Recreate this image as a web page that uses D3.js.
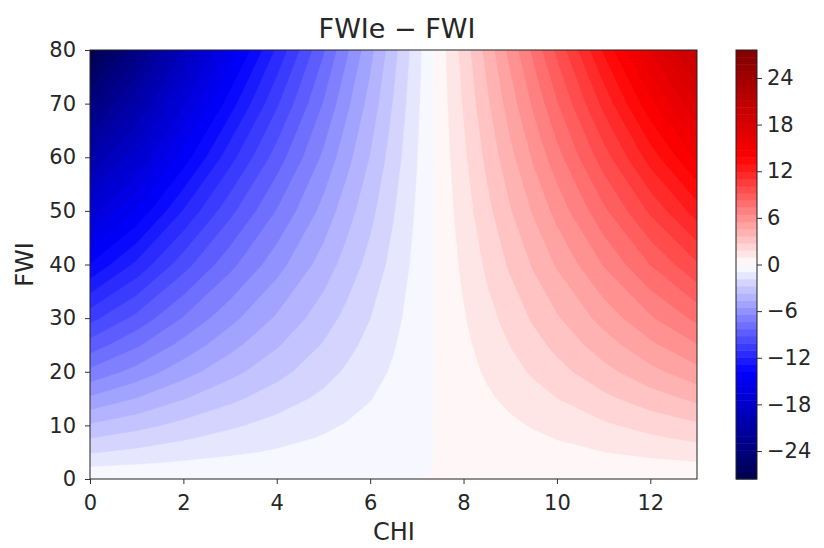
<!DOCTYPE html>
<html>
<head>
<meta charset="utf-8">
<script src="https://cdn.jsdelivr.net/npm/d3@7"></script>
<style>
  body { margin: 0; background: #fff; }
  text { font-family: "DejaVu Sans", sans-serif; fill: #262626; }
</style>
</head>
<body>
<div id="container"></div>
<script>
/* CONSTANTS AND GLOBALS */
const width = 824;
const height = 548;
const plot = { left: 90, right: 697, top: 50, bottom: 479 };
const bar = { left: 736, right: 757 };

/* DATA */
const chiValues = [0, 1, 2, 3, 4, 5, 5.5, 6, 6.5, 7, 7.5, 8, 8.5, 9, 9.5, 10, 11, 12, 13];
const fwiValues = [0, 1, 2, 3, 5, 7.5, 10, 15, 20, 25, 30, 40, 50, 60, 70, 80];
// FWIe - FWI : one row per FWI value (bottom to top), one column per CHI value
const diffRows = [
  [0, 0, 0, 0, 0, 0, 0, 0, 0, 0, 0, 0, 0, 0, 0, 0, 0, 0, 0],
  [-0.41, -0.35, -0.29, -0.23, -0.18, -0.13, -0.10, -0.07, -0.05, -0.02, 0.01, 0.03, 0.06, 0.09, 0.11, 0.14, 0.20, 0.25, 0.30],
  [-0.83, -0.71, -0.58, -0.46, -0.35, -0.25, -0.20, -0.15, -0.09, -0.04, 0.02, 0.07, 0.12, 0.17, 0.23, 0.28, 0.39, 0.50, 0.60],
  [-1.18, -1.01, -0.83, -0.66, -0.51, -0.36, -0.28, -0.21, -0.13, -0.06, 0.02, 0.09, 0.17, 0.25, 0.33, 0.40, 0.56, 0.71, 0.86],
  [-1.93, -1.65, -1.34, -1.07, -0.83, -0.59, -0.46, -0.34, -0.22, -0.09, 0.04, 0.15, 0.28, 0.41, 0.53, 0.66, 0.91, 1.16, 1.40],
  [-2.75, -2.35, -1.92, -1.53, -1.18, -0.84, -0.66, -0.49, -0.31, -0.13, 0.05, 0.22, 0.40, 0.58, 0.76, 0.94, 1.30, 1.66, 2.00],
  [-3.58, -3.06, -2.50, -1.99, -1.53, -1.09, -0.86, -0.64, -0.40, -0.17, 0.07, 0.29, 0.52, 0.75, 0.99, 1.22, 1.69, 2.16, 2.60],
  [-5.36, -4.58, -3.74, -2.98, -2.30, -1.64, -1.29, -0.96, -0.60, -0.25, 0.10, 0.43, 0.78, 1.13, 1.48, 1.83, 2.54, 3.24, 3.90],
  [-7.15, -6.11, -4.99, -3.98, -3.07, -2.18, -1.72, -1.27, -0.81, -0.34, 0.13, 0.57, 1.04, 1.51, 1.98, 2.44, 3.38, 4.32, 5.20],
  [-8.80, -7.52, -6.14, -4.90, -3.78, -2.69, -2.11, -1.57, -0.99, -0.42, 0.16, 0.70, 1.28, 1.86, 2.43, 3.01, 4.16, 5.31, 6.40],
  [-10.45, -8.93, -7.30, -5.81, -4.48, -3.19, -2.51, -1.86, -1.18, -0.49, 0.19, 0.84, 1.52, 2.20, 2.89, 3.57, 4.94, 6.31, 7.60],
  [-13.75, -11.75, -9.60, -7.65, -5.90, -4.20, -3.30, -2.45, -1.55, -0.65, 0.25, 1.10, 2.00, 2.90, 3.80, 4.70, 6.50, 8.30, 10.00],
  [-17.05, -14.57, -11.90, -9.49, -7.32, -5.21, -4.09, -3.04, -1.92, -0.81, 0.31, 1.36, 2.48, 3.60, 4.71, 5.83, 8.06, 10.29, 12.40],
  [-20.49, -17.51, -14.30, -11.40, -8.79, -6.26, -4.92, -3.65, -2.31, -0.97, 0.37, 1.64, 2.98, 4.32, 5.66, 7.00, 9.69, 12.37, 14.90],
  [-23.93, -20.45, -16.70, -13.31, -10.27, -7.31, -5.74, -4.26, -2.70, -1.13, 0.44, 1.91, 3.48, 5.05, 6.61, 8.18, 11.31, 14.44, 17.40],
  [-27.50, -23.50, -19.20, -15.30, -11.80, -8.40, -6.60, -4.90, -3.10, -1.30, 0.50, 2.20, 4.00, 5.80, 7.60, 9.40, 13.00, 16.60, 20.00]
];
const xTicks = [0, 2, 4, 6, 8, 10, 12];
const yTicks = [0, 10, 20, 30, 40, 50, 60, 70, 80];
const barTicks = [-24, -18, -12, -6, 0, 6, 12, 18, 24];
const vLimit = 27.6;
const nBands = 60;

/* SCALES */
const xScale = d3.scaleLinear().domain([0, 13]).range([plot.left, plot.right]);
const yScale = d3.scaleLinear().domain([0, 80]).range([plot.bottom, plot.top]);
const barScale = d3.scaleLinear().domain([-vLimit, vLimit]).range([plot.bottom, plot.top]);

// matplotlib "seismic"
const colorScale = d3.scaleLinear()
  .domain([-vLimit, -vLimit / 2, 0, vLimit / 2, vLimit])
  .range(["#00004d", "#0000ff", "#ffffff", "#ff0000", "#800000"]);

const levels = d3.range(nBands + 1).map(i => -vLimit + i * 2 * vLimit / nBands);
const bandColor = i => colorScale((levels[i] + levels[i + 1]) / 2);

// d3.contours puts value i at i + 0.5; grid is not evenly spaced
function fromIndex(arr, u) {
  u = u - 0.5;
  const i = Math.max(0, Math.min(arr.length - 2, Math.floor(u)));
  return arr[i] + (u - i) * (arr[i + 1] - arr[i]);
}

/* HTML ELEMENTS */
const svg = d3.select("#container")
  .append("svg")
  .attr("width", width)
  .attr("height", height);

svg.append("clipPath").attr("id", "clip")
  .append("rect")
  .attr("x", plot.left).attr("y", plot.top)
  .attr("width", plot.right - plot.left).attr("height", plot.bottom - plot.top);

const contours = d3.contours()
  .size([chiValues.length, fwiValues.length])
  .thresholds(levels.slice(0, nBands))
  (diffRows.flat());

const path = d3.geoPath(d3.geoTransform({
  point: function(x, y) {
    this.stream.point(xScale(fromIndex(chiValues, x)), yScale(fromIndex(fwiValues, y)));
  }
}));

svg.append("g")
  .attr("clip-path", "url(#clip)")
  .selectAll("path")
  .data(contours)
  .join("path")
  .attr("d", path)
  .attr("fill", (d, i) => bandColor(i))
  .attr("stroke", (d, i) => bandColor(i))
  .attr("stroke-width", 0.4);

// frame
svg.append("rect")
  .attr("x", plot.left).attr("y", plot.top)
  .attr("width", plot.right - plot.left).attr("height", plot.bottom - plot.top)
  .attr("fill", "none").attr("stroke", "#222").attr("stroke-width", 1);

// axes
const xAxis = svg.append("g")
  .attr("transform", `translate(0,${plot.bottom})`)
  .call(d3.axisBottom(xScale).tickValues(xTicks).tickSize(5).tickPadding(11));
const yAxis = svg.append("g")
  .attr("transform", `translate(${plot.left},0)`)
  .call(d3.axisLeft(yScale).tickValues(yTicks).tickSize(5).tickPadding(9));

// colorbar
svg.append("g")
  .selectAll("rect")
  .data(d3.range(nBands))
  .join("rect")
  .attr("x", bar.left)
  .attr("width", bar.right - bar.left)
  .attr("y", i => barScale(levels[i + 1]))
  .attr("height", i => barScale(levels[i]) - barScale(levels[i + 1]) + 0.5)
  .attr("fill", i => bandColor(i));

svg.append("rect")
  .attr("x", bar.left).attr("y", plot.top)
  .attr("width", bar.right - bar.left).attr("height", plot.bottom - plot.top)
  .attr("fill", "none").attr("stroke", "#222").attr("stroke-width", 1);

const barAxis = svg.append("g")
  .attr("transform", `translate(${bar.right},0)`)
  .call(d3.axisRight(barScale).tickValues(barTicks).tickSize(5).tickPadding(5));

[xAxis, yAxis, barAxis].forEach(g => {
  g.select(".domain").remove();
  g.selectAll(".tick line").attr("stroke", "#333");
  g.selectAll(".tick text").style("font-size", "21px").attr("fill", "#262626");
});

// labels
svg.append("text")
  .attr("x", 397)
  .attr("y", 38)
  .attr("text-anchor", "middle")
  .style("font-size", "27px")
  .text("FWIe \u2212 FWI");

svg.append("text")
  .attr("x", 394)
  .attr("y", 540)
  .attr("text-anchor", "middle")
  .style("font-size", "24px")
  .text("CHI");

svg.append("text")
  .attr("transform", `translate(33,${(plot.top + plot.bottom) / 2}) rotate(-90)`)
  .attr("text-anchor", "middle")
  .style("font-size", "24px")
  .text("FWI");
</script>
</body>
</html>
